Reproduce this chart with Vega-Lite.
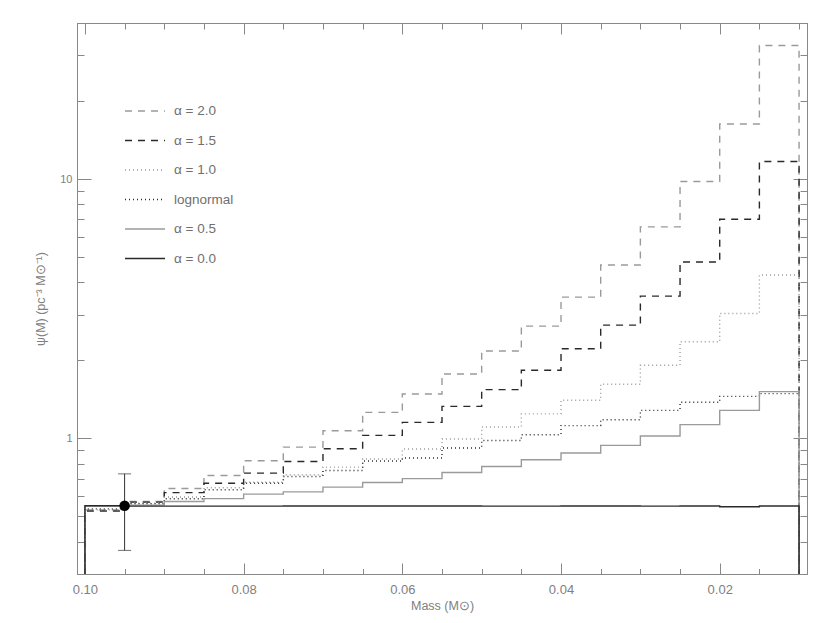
{
  "$schema": "https://vega.github.io/schema/vega-lite/v6.json",
  "width": 730,
  "height": 551,
  "autosize": {"type": "none"},
  "padding": {"left": 77, "top": 23, "right": 23, "bottom": 49},
  "background": "white",
  "config": {
    "view": {"stroke": null},
    "axis": {"grid": false, "domainColor": "#888888", "tickColor": "#888888", "labelColor": "#808080", "titleColor": "#808080", "labelFont": "Liberation Sans", "titleFont": "Liberation Sans", "titleFontWeight": "normal", "domainWidth": 1, "tickWidth": 1},
    "legend": {"labelFont": "Liberation Sans"}
  },
  "datasets": {
    "hist": [
      {"s":"α = 2.0","i":0,"m":0.1,"v":0.3},{"s":"α = 2.0","i":1,"m":0.1,"v":0.53},{"s":"α = 2.0","i":2,"m":0.095,"v":0.571},{"s":"α = 2.0","i":3,"m":0.09,"v":0.641},{"s":"α = 2.0","i":4,"m":0.085,"v":0.719},{"s":"α = 2.0","i":5,"m":0.08,"v":0.82},{"s":"α = 2.0","i":6,"m":0.075,"v":0.926},{"s":"α = 2.0","i":7,"m":0.07,"v":1.071},{"s":"α = 2.0","i":8,"m":0.065,"v":1.26},{"s":"α = 2.0","i":9,"m":0.06,"v":1.484},{"s":"α = 2.0","i":10,"m":0.055,"v":1.771},{"s":"α = 2.0","i":11,"m":0.05,"v":2.174},{"s":"α = 2.0","i":12,"m":0.045,"v":2.71},{"s":"α = 2.0","i":13,"m":0.04,"v":3.508},{"s":"α = 2.0","i":14,"m":0.035,"v":4.664},{"s":"α = 2.0","i":15,"m":0.03,"v":6.541},{"s":"α = 2.0","i":16,"m":0.025,"v":9.797},{"s":"α = 2.0","i":17,"m":0.02,"v":16.32},{"s":"α = 2.0","i":18,"m":0.015,"v":32.76},{"s":"α = 2.0","i":19,"m":0.01,"v":32.76},{"s":"α = 2.0","i":20,"m":0.01,"v":0.3},
      {"s":"α = 1.5","i":0,"m":0.1,"v":0.3},{"s":"α = 1.5","i":1,"m":0.1,"v":0.525},{"s":"α = 1.5","i":2,"m":0.095,"v":0.568},{"s":"α = 1.5","i":3,"m":0.09,"v":0.618},{"s":"α = 1.5","i":4,"m":0.085,"v":0.672},{"s":"α = 1.5","i":5,"m":0.08,"v":0.735},{"s":"α = 1.5","i":6,"m":0.075,"v":0.815},{"s":"α = 1.5","i":7,"m":0.07,"v":0.912},{"s":"α = 1.5","i":8,"m":0.065,"v":1.027},{"s":"α = 1.5","i":9,"m":0.06,"v":1.153},{"s":"α = 1.5","i":10,"m":0.055,"v":1.329},{"s":"α = 1.5","i":11,"m":0.05,"v":1.542},{"s":"α = 1.5","i":12,"m":0.045,"v":1.832},{"s":"α = 1.5","i":13,"m":0.04,"v":2.216},{"s":"α = 1.5","i":14,"m":0.035,"v":2.734},{"s":"α = 1.5","i":15,"m":0.03,"v":3.539},{"s":"α = 1.5","i":16,"m":0.025,"v":4.788},{"s":"α = 1.5","i":17,"m":0.02,"v":7.003},{"s":"α = 1.5","i":18,"m":0.015,"v":11.7},{"s":"α = 1.5","i":19,"m":0.01,"v":11.7},{"s":"α = 1.5","i":20,"m":0.01,"v":0.3},
      {"s":"α = 1.0","i":0,"m":0.1,"v":0.3},{"s":"α = 1.0","i":1,"m":0.1,"v":0.53},{"s":"α = 1.0","i":2,"m":0.095,"v":0.563},{"s":"α = 1.0","i":3,"m":0.09,"v":0.594},{"s":"α = 1.0","i":4,"m":0.085,"v":0.645},{"s":"α = 1.0","i":5,"m":0.08,"v":0.678},{"s":"α = 1.0","i":6,"m":0.075,"v":0.724},{"s":"α = 1.0","i":7,"m":0.07,"v":0.775},{"s":"α = 1.0","i":8,"m":0.065,"v":0.833},{"s":"α = 1.0","i":9,"m":0.06,"v":0.91},{"s":"α = 1.0","i":10,"m":0.055,"v":0.995},{"s":"α = 1.0","i":11,"m":0.05,"v":1.107},{"s":"α = 1.0","i":12,"m":0.045,"v":1.243},{"s":"α = 1.0","i":13,"m":0.04,"v":1.403},{"s":"α = 1.0","i":14,"m":0.035,"v":1.617},{"s":"α = 1.0","i":15,"m":0.03,"v":1.915},{"s":"α = 1.0","i":16,"m":0.025,"v":2.358},{"s":"α = 1.0","i":17,"m":0.02,"v":3.034},{"s":"α = 1.0","i":18,"m":0.015,"v":4.266},{"s":"α = 1.0","i":19,"m":0.01,"v":4.266},{"s":"α = 1.0","i":20,"m":0.01,"v":0.3},
      {"s":"lognormal","i":0,"m":0.1,"v":0.3},{"s":"lognormal","i":1,"m":0.1,"v":0.535},{"s":"lognormal","i":2,"m":0.095,"v":0.56},{"s":"lognormal","i":3,"m":0.09,"v":0.585},{"s":"lognormal","i":4,"m":0.085,"v":0.634},{"s":"lognormal","i":5,"m":0.08,"v":0.672},{"s":"lognormal","i":6,"m":0.075,"v":0.713},{"s":"lognormal","i":7,"m":0.07,"v":0.752},{"s":"lognormal","i":8,"m":0.065,"v":0.818},{"s":"lognormal","i":9,"m":0.06,"v":0.84},{"s":"lognormal","i":10,"m":0.055,"v":0.918},{"s":"lognormal","i":11,"m":0.05,"v":0.982},{"s":"lognormal","i":12,"m":0.045,"v":1.033},{"s":"lognormal","i":13,"m":0.04,"v":1.12},{"s":"lognormal","i":14,"m":0.035,"v":1.181},{"s":"lognormal","i":15,"m":0.03,"v":1.283},{"s":"lognormal","i":16,"m":0.025,"v":1.378},{"s":"lognormal","i":17,"m":0.02,"v":1.453},{"s":"lognormal","i":18,"m":0.015,"v":1.488},{"s":"lognormal","i":19,"m":0.01,"v":1.488},{"s":"lognormal","i":20,"m":0.01,"v":0.3},
      {"s":"α = 0.5","i":0,"m":0.1,"v":0.3},{"s":"α = 0.5","i":1,"m":0.1,"v":0.548},{"s":"α = 0.5","i":2,"m":0.095,"v":0.553},{"s":"α = 0.5","i":3,"m":0.09,"v":0.571},{"s":"α = 0.5","i":4,"m":0.085,"v":0.586},{"s":"α = 0.5","i":5,"m":0.08,"v":0.61},{"s":"α = 0.5","i":6,"m":0.075,"v":0.622},{"s":"α = 0.5","i":7,"m":0.07,"v":0.649},{"s":"α = 0.5","i":8,"m":0.065,"v":0.676},{"s":"α = 0.5","i":9,"m":0.06,"v":0.7},{"s":"α = 0.5","i":10,"m":0.055,"v":0.739},{"s":"α = 0.5","i":11,"m":0.05,"v":0.779},{"s":"α = 0.5","i":12,"m":0.045,"v":0.827},{"s":"α = 0.5","i":13,"m":0.04,"v":0.878},{"s":"α = 0.5","i":14,"m":0.035,"v":0.94},{"s":"α = 0.5","i":15,"m":0.03,"v":1.022},{"s":"α = 0.5","i":16,"m":0.025,"v":1.13},{"s":"α = 0.5","i":17,"m":0.02,"v":1.283},{"s":"α = 0.5","i":18,"m":0.015,"v":1.515},{"s":"α = 0.5","i":19,"m":0.01,"v":1.515},{"s":"α = 0.5","i":20,"m":0.01,"v":0.3},
      {"s":"α = 0.0","i":0,"m":0.1,"v":0.3},{"s":"α = 0.0","i":1,"m":0.1,"v":0.55},{"s":"α = 0.0","i":2,"m":0.095,"v":0.548},{"s":"α = 0.0","i":3,"m":0.09,"v":0.548},{"s":"α = 0.0","i":4,"m":0.085,"v":0.548},{"s":"α = 0.0","i":5,"m":0.08,"v":0.548},{"s":"α = 0.0","i":6,"m":0.075,"v":0.549},{"s":"α = 0.0","i":7,"m":0.07,"v":0.549},{"s":"α = 0.0","i":8,"m":0.065,"v":0.549},{"s":"α = 0.0","i":9,"m":0.06,"v":0.549},{"s":"α = 0.0","i":10,"m":0.055,"v":0.549},{"s":"α = 0.0","i":11,"m":0.05,"v":0.548},{"s":"α = 0.0","i":12,"m":0.045,"v":0.548},{"s":"α = 0.0","i":13,"m":0.04,"v":0.549},{"s":"α = 0.0","i":14,"m":0.035,"v":0.549},{"s":"α = 0.0","i":15,"m":0.03,"v":0.548},{"s":"α = 0.0","i":16,"m":0.025,"v":0.549},{"s":"α = 0.0","i":17,"m":0.02,"v":0.545},{"s":"α = 0.0","i":18,"m":0.015,"v":0.549},{"s":"α = 0.0","i":19,"m":0.01,"v":0.549},{"s":"α = 0.0","i":20,"m":0.01,"v":0.3}
    ],
    "obs": [{"m": 0.095, "v": 0.55, "lo": 0.37, "hi": 0.73}]
  },
  "resolve": {"axis": {"x": "independent", "y": "independent"}},
  "layer": [
    {
      "data": {"name": "hist"},
      "mark": {"type": "line", "interpolate": "step-after"},
      "encoding": {
        "x": {"field": "m", "type": "quantitative", "scale": {"domain": [0.009, 0.101], "reverse": true, "zero": false, "nice": false},
              "axis": {"orient": "bottom", "values": [0.1, 0.08, 0.06, 0.04, 0.02], "format": ".2f", "ticks": false, "labelPadding": 9, "labelFontSize": 13, "title": "Mass (M⊙)", "titleFontSize": 12.5, "titlePadding": 3}},
        "y": {"field": "v", "type": "quantitative", "scale": {"type": "log", "domain": [0.3, 40], "nice": false},
              "axis": {"orient": "left", "values": [1, 10], "format": "d", "ticks": false, "labelPadding": 5, "labelFontSize": 11, "title": "ψ(M) (pc⁻³ M⊙⁻¹)", "titleFontSize": 12.5, "titlePadding": 12}},
        "color": {"field": "s", "type": "nominal", "scale": {"domain": ["α = 2.0", "α = 1.5", "α = 1.0", "lognormal", "α = 0.5", "α = 0.0"], "range": ["#9a9a9a", "#2a2a2a", "#9a9a9a", "#2a2a2a", "#9a9a9a", "#2a2a2a"]},
                  "legend": {"title": null, "orient": "none", "legendX": 47, "legendY": 67, "symbolType": "stroke", "symbolSize": 1600, "labelFontSize": 13.5, "labelColor": "#707070", "labelOffset": 8, "rowPadding": 1.5, "padding": 0}},
        "strokeDash": {"field": "s", "type": "nominal", "scale": {"domain": ["α = 2.0", "α = 1.5", "α = 1.0", "lognormal", "α = 0.5", "α = 0.0"], "range": [[7, 6], [7, 6], [1, 3], [1, 3], [1, 0], [1, 0]]}, "legend": {"title": null}},
        "strokeWidth": {"field": "s", "type": "nominal", "scale": {"domain": ["α = 2.0", "α = 1.5", "α = 1.0", "lognormal", "α = 0.5", "α = 0.0"], "range": [1.4, 1.4, 1.4, 1.4, 2.2, 1.4]}, "legend": {"title": null}},
        "order": {"field": "i", "type": "quantitative"}
      }
    },
    {
      "data": {"name": "obs"},
      "mark": {"type": "rule", "color": "#333333", "strokeWidth": 1},
      "encoding": {
        "x": {"field": "m", "type": "quantitative", "scale": {"domain": [0.009, 0.101], "reverse": true, "zero": false, "nice": false},
              "axis": {"orient": "bottom", "values": [0.1, 0.08, 0.06, 0.04, 0.02], "labels": false, "tickSize": -11, "title": null}},
        "y": {"field": "lo", "type": "quantitative", "scale": {"type": "log", "domain": [0.3, 40], "nice": false},
              "axis": {"orient": "left", "values": [1, 10], "labels": false, "tickSize": -14, "title": null}},
        "y2": {"field": "hi"}
      }
    },
    {
      "data": {"name": "obs"},
      "mark": {"type": "tick", "orient": "horizontal", "size": 13, "thickness": 1, "color": "#333333"},
      "encoding": {
        "x": {"field": "m", "type": "quantitative", "scale": {"domain": [0.009, 0.101], "reverse": true, "zero": false, "nice": false},
              "axis": {"orient": "bottom", "values": [0.095, 0.09, 0.085, 0.075, 0.07, 0.065, 0.055, 0.05, 0.045, 0.035, 0.03, 0.025, 0.015, 0.01], "labels": false, "tickSize": -5.5, "title": null}},
        "y": {"field": "hi", "type": "quantitative", "scale": {"type": "log", "domain": [0.3, 40], "nice": false},
              "axis": {"orient": "left", "values": [0.4, 0.5, 0.6, 0.7, 0.8, 0.9, 2, 3, 4, 5, 6, 7, 8, 9, 20, 30], "labels": false, "tickSize": -7, "title": null}}
      }
    },
    {
      "data": {"name": "obs"},
      "mark": {"type": "tick", "orient": "horizontal", "size": 13, "thickness": 1, "color": "#333333"},
      "encoding": {
        "x": {"field": "m", "type": "quantitative", "scale": {"domain": [0.009, 0.101], "reverse": true, "zero": false, "nice": false},
              "axis": {"orient": "top", "values": [0.095, 0.09, 0.085, 0.075, 0.07, 0.065, 0.055, 0.05, 0.045, 0.035, 0.03, 0.025, 0.015, 0.01], "labels": false, "tickSize": -6, "title": null}},
        "y": {"field": "lo", "type": "quantitative", "scale": {"type": "log", "domain": [0.3, 40], "nice": false},
              "axis": {"orient": "right", "values": [0.4, 0.5, 0.6, 0.7, 0.8, 0.9, 2, 3, 4, 5, 6, 7, 8, 9, 20, 30], "labels": false, "tickSize": -7, "title": null}}
      }
    },
    {
      "data": {"name": "obs"},
      "mark": {"type": "point", "filled": true, "color": "#000000", "opacity": 1, "size": 110},
      "encoding": {
        "x": {"field": "m", "type": "quantitative", "scale": {"domain": [0.009, 0.101], "reverse": true, "zero": false, "nice": false},
              "axis": {"orient": "top", "values": [0.1, 0.08, 0.06, 0.04, 0.02], "labels": false, "tickSize": -11, "title": null}},
        "y": {"field": "v", "type": "quantitative", "scale": {"type": "log", "domain": [0.3, 40], "nice": false},
              "axis": {"orient": "right", "values": [1, 10], "labels": false, "tickSize": -14, "title": null}}
      }
    }
  ]
}
